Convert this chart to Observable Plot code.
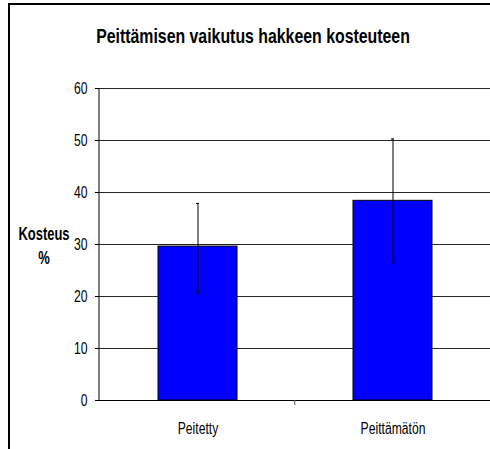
<!DOCTYPE html>
<html>
<head>
<meta charset="utf-8">
<script src="https://cdn.jsdelivr.net/npm/d3@7"></script>
<script src="https://cdn.jsdelivr.net/npm/@observablehq/plot@0.6"></script>
<style>
  html, body { margin: 0; padding: 0; background: #fff; }
  #wrap { position: relative; width: 490px; height: 449px; overflow: hidden; }
  #frame { position: absolute; left: 8px; top: 3px; width: 500px; height: 460px;
           border-left: 2px solid #000; border-top: 2px solid #000; box-sizing: border-box; }
  #title { position: absolute; left: 0; width: 506px; top: 25px; text-align: center;
           font-family: "Liberation Sans", Arial, sans-serif;
           font-weight: bold; font-size: 21px; line-height: 21px; color: #000; white-space: nowrap;
           transform: scaleX(0.755); transform-origin: 253px 0; }
  #ylab { position: absolute; left: 0px; width: 88px; top: 222px; text-align: center;
          font-family: "Liberation Sans", Arial, sans-serif;
          font-weight: bold; font-size: 18px; line-height: 24px; color: #000; white-space: nowrap;
          transform: scaleX(0.72); transform-origin: 44px 0; }
  #chart { position: absolute; left: 0; top: 0; }
</style>
</head>
<body>
<div id="wrap">
  <div id="frame"></div>
  <div id="chart"></div>
  <div id="title">Peittämisen vaikutus hakkeen kosteuteen</div>
  <div id="ylab">Kosteus<br>%</div>
</div>
<script>
const categories = ["Peitetty", "Peittämätön"];
const means = [29.6, 38.4];
const lows = [20.8, 26.4];
const highs = [37.9, 50.3];
const yTicks = [0, 10, 20, 30, 40, 50, 60];

const data = categories.map((c, i) => ({cat: c, mean: means[i], lo: lows[i], hi: highs[i]}));

const pIn = 0.597;
const plot = Plot.plot({
  width: 490,
  height: 449,
  marginTop: 88,
  marginBottom: 49,
  marginLeft: 99,
  marginRight: 0,
  style: {fontFamily: '"Liberation Sans", Arial, sans-serif', fontSize: "16px", color: "#000", background: "transparent"},
  x: {domain: categories, paddingInner: pIn, paddingOuter: pIn / 2, label: null},
  y: {domain: [0, 60], label: null},
  marks: [
    Plot.gridY(yTicks, {stroke: "#000", strokeOpacity: 0.85}),
    Plot.barY(data, {x: "cat", y: "mean", fill: "#0000FF", stroke: "#000", strokeWidth: 1}),
    Plot.ruleX(data, {x: "cat", y1: "lo", y2: "hi", stroke: "#000", strokeWidth: 1}),
    Plot.tickY(data, {x: "cat", y: "hi", stroke: "#000", insetLeft: 38, insetRight: 38}),
    Plot.tickY(data, {x: "cat", y: "lo", stroke: "#000", insetLeft: 38, insetRight: 38}),
    Plot.ruleY([0], {stroke: "#000"}),
    Plot.axisY(yTicks, {tickSize: 4, tickPadding: 8, label: null, stroke: "#000"}),
    Plot.axisX({tickSize: 0, tickPadding: 22, label: null})
  ]
});
document.getElementById("chart").appendChild(plot);

const svg = d3.select(plot);
// condense axis label glyphs horizontally (Arial-like narrow rendering of the original)
svg.selectAll("g[aria-label$='tick label'] text").each(function() {
  const t = this.getAttribute("transform") || "";
  this.setAttribute("transform", t + " scale(0.76,1)");
});

// y axis line and category separator tick, positioned through the scales
const xS = plot.scale("x");
const yS = plot.scale("y");
const x0 = xS.range[0];
svg.append("line")
  .attr("x1", x0).attr("x2", x0)
  .attr("y1", yS.apply(60)).attr("y2", yS.apply(0))
  .attr("stroke", "#000");
const sep = xS.apply(categories[1]) - xS.step * pIn / 2;
svg.append("line")
  .attr("x1", sep).attr("x2", sep)
  .attr("y1", yS.apply(0)).attr("y2", yS.apply(0) + 5)
  .attr("stroke", "#555");
</script>
</body>
</html>
